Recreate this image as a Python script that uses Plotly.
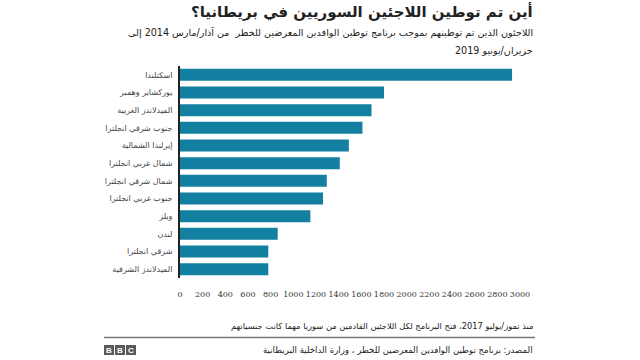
import plotly.graph_objects as go

regions = ["اسكتلندا", "يوركشاير وهمبر", "الميدلاندز الغربية", "جنوب شرقي انجلترا",
           "إيرلندا الشمالية", "شمال غربي انجلترا", "شمال شرقي انجلترا", "جنوب غربي انجلترا",
           "ويلز", "لندن", "شرقي انجلترا", "الميدلاندز الشرقية"]
refugees = [2930, 1800, 1690, 1610, 1490, 1410, 1295, 1262, 1150, 862, 779, 779]
x_ticks = list(range(0, 3001, 200))

title = "أين تم توطين اللاجئين السوريين في بريطانيا؟"
subtitle_1 = "اللاجئون الذين تم توطينهم بموجب برنامج توطين الوافدين المعرضين للخطر  من آذار/مارس 2014 إلى"
subtitle_2 = "حزيران/يونيو 2019"
footnote = "منذ تموز/يوليو 2017، فتح البرنامج لكل اللاجئين القادمين من سوريا مهما كانت جنسياتهم"
source = "المصدر: برنامج توطين الوافدين المعرضين للخطر ، وزارة الداخلية البريطانية"

W, H = 640, 360
L, R, T, B = 180, 120, 66, 82
PW, PH = W - L - R, H - T - B

def px(x):
    return (x - L) / PW

def py(y):
    return (H - B - y) / PH

FONT = "DejaVu Sans"

fig = go.Figure(go.Bar(
    x=refugees, y=regions, orientation="h",
    marker=dict(color="#1380A1", line=dict(width=0)),
    width=0.68, hoverinfo="skip",
))

fig.update_layout(
    width=W, height=H,
    margin=dict(l=L, r=R, t=T, b=B, autoexpand=False),
    paper_bgcolor="white", plot_bgcolor="white",
    showlegend=False,
    font=dict(family=FONT, color="#222222"),
    xaxis=dict(range=[0, 3000], tickvals=x_ticks, ticktext=[str(v) for v in x_ticks],
               showgrid=False, zeroline=False, showline=False, tickangle=0, automargin=False,
               ticks="outside", ticklen=8, tickcolor="rgba(0,0,0,0)",
               tickfont=dict(size=8, color="#333333", family="DejaVu Serif")),
    yaxis=dict(autorange="reversed", showgrid=False, zeroline=False, automargin=False,
               showline=True, linecolor="#222222", linewidth=2,
               ticks="outside", ticklen=4, tickcolor="rgba(0,0,0,0)",
               tickfont=dict(size=8, color="#444444")),
)

ann = []
ann.append(dict(text="<b>" + title + "</b>", x=px(535), y=py(12), xref="paper", yref="paper",
                xanchor="right", yanchor="middle", showarrow=False,
                font=dict(size=15, color="#222222", family=FONT)))
ann.append(dict(text=subtitle_1, x=px(535), y=py(33), xref="paper", yref="paper",
                xanchor="right", yanchor="middle", showarrow=False,
                font=dict(size=9.6, color="#222222", family=FONT)))
ann.append(dict(text=subtitle_2, x=px(535), y=py(50), xref="paper", yref="paper",
                xanchor="right", yanchor="middle", showarrow=False,
                font=dict(size=9.6, color="#222222", family=FONT)))
ann.append(dict(text=footnote, x=px(535), y=py(326), xref="paper", yref="paper",
                xanchor="right", yanchor="middle", showarrow=False,
                font=dict(size=8.3, color="#222222", family=FONT)))
ann.append(dict(text=source, x=px(535), y=py(350), xref="paper", yref="paper",
                xanchor="right", yanchor="middle", showarrow=False,
                font=dict(size=8.6, color="#222222", family=FONT)))

shapes = [dict(type="line", xref="paper", yref="paper", x0=px(104), x1=px(535),
               y0=py(337.5), y1=py(337.5), line=dict(color="#777777", width=1.5))]
for i, letter in enumerate(["B", "B", "C"]):
    x0 = 104 + i * 11
    shapes.append(dict(type="rect", xref="paper", yref="paper",
                       x0=px(x0), x1=px(x0 + 10), y0=py(345), y1=py(355),
                       fillcolor="#5a5a5a", line=dict(width=0)))
    ann.append(dict(text="<b>" + letter + "</b>", x=px(x0 + 5), y=py(350), xref="paper", yref="paper",
                    xanchor="center", yanchor="middle", showarrow=False,
                    font=dict(size=8, color="white", family="Liberation Sans")))

fig.update_layout(annotations=ann, shapes=shapes)
fig.write_html("out.html", config={"displayModeBar": False},
               post_script="document.body.style.margin='0';document.body.style.overflow='hidden';")
